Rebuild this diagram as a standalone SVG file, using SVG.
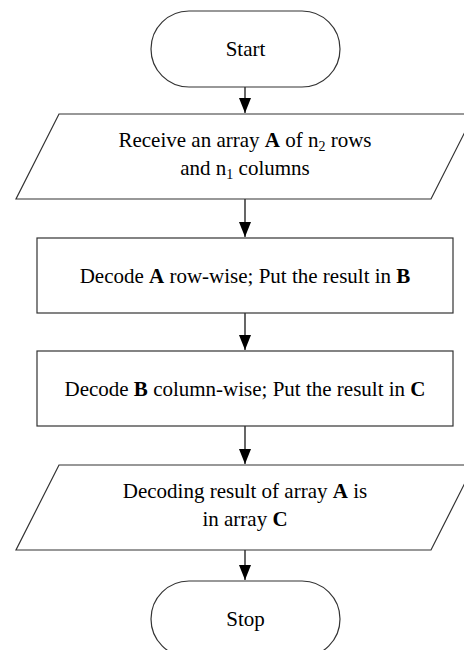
<svg xmlns="http://www.w3.org/2000/svg" width="464" height="650" viewBox="0 0 464 650">
<style>
.shape{fill:#fff;stroke:#333;stroke-width:1.2}
.t{font-family:"Liberation Serif","Times New Roman",serif;font-size:21px;fill:#000;text-anchor:middle}
.b{font-weight:bold}
.sub{font-size:14px}
.conn{stroke:#000;stroke-width:1.2;fill:none}
</style>
<defs>
<marker id="arr" viewBox="0 0 15 12" refX="15" refY="6" markerWidth="15" markerHeight="12" markerUnits="userSpaceOnUse" orient="auto">
<path d="M0,0 L15,6 L0,12 Z" fill="#000"/>
</marker>
</defs>
<rect width="464" height="650" fill="#fff"/>
<g id="connectors">
<line class="conn" x1="245" y1="87" x2="245" y2="113" marker-end="url(#arr)"/>
<line class="conn" x1="245" y1="199" x2="245" y2="237" marker-end="url(#arr)"/>
<line class="conn" x1="245" y1="313" x2="245" y2="350" marker-end="url(#arr)"/>
<line class="conn" x1="245" y1="426" x2="245" y2="464" marker-end="url(#arr)"/>
<line class="conn" x1="245" y1="550" x2="245" y2="580" marker-end="url(#arr)"/>
</g>
<g id="start">
<rect class="shape" x="151" y="11" width="189" height="76" rx="38" ry="38"/>
<text class="t" x="245.5" y="56">Start</text>
</g>
<g id="receive">
<polygon class="shape" points="59,114 474,114 431,199 16,199"/>
<text class="t" x="245" y="147">Receive an array <tspan class="b">A</tspan> of n<tspan class="sub" dy="4">2</tspan><tspan dy="-4"> rows</tspan></text>
<text class="t" x="245" y="175">and n<tspan class="sub" dy="4">1</tspan><tspan dy="-4"> columns</tspan></text>
</g>
<g id="decodeRow">
<rect class="shape" x="37" y="238" width="416" height="75"/>
<text class="t" x="245" y="283">Decode <tspan class="b">A</tspan> row-wise; Put the result in <tspan class="b">B</tspan></text>
</g>
<g id="decodeCol">
<rect class="shape" x="37" y="351" width="416" height="75"/>
<text class="t" x="245" y="396">Decode <tspan class="b">B</tspan> column-wise; Put the result in <tspan class="b">C</tspan></text>
</g>
<g id="result">
<polygon class="shape" points="59,465 474,465 431,550 16,550"/>
<text class="t" x="245" y="498">Decoding result of array <tspan class="b">A</tspan> is</text>
<text class="t" x="245" y="526">in array <tspan class="b">C</tspan></text>
</g>
<g id="stop">
<rect class="shape" x="151" y="581" width="189" height="76" rx="38" ry="38"/>
<text class="t" x="245.5" y="626">Stop</text>
</g>
</svg>
